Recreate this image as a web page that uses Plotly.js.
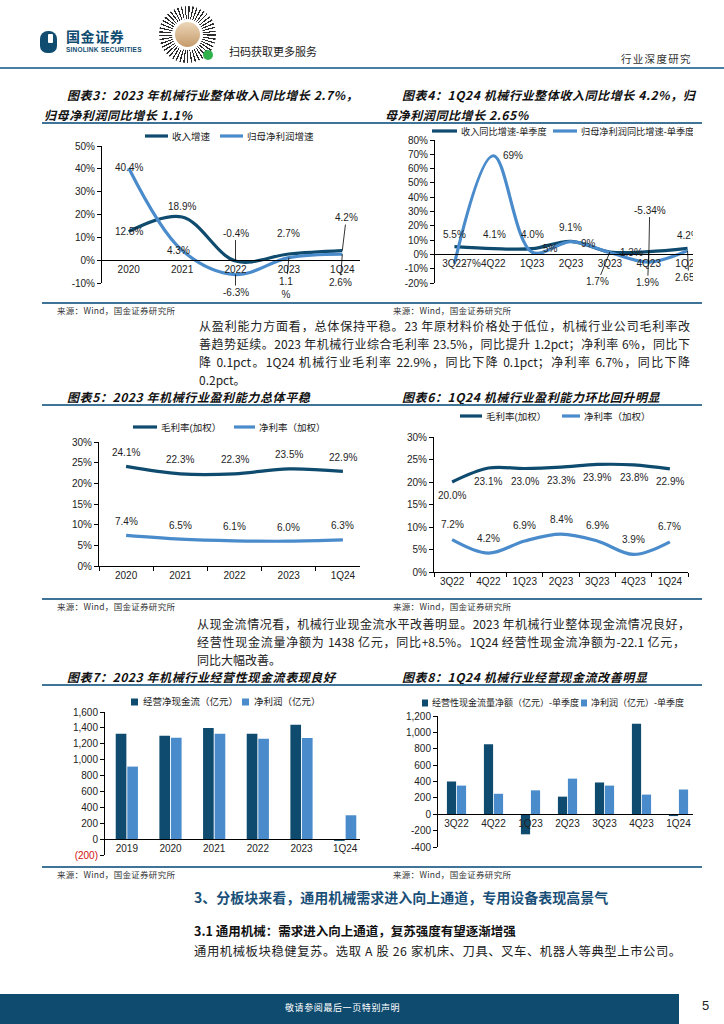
<!DOCTYPE html>
<html lang="zh-CN"><head><meta charset="utf-8">
<script src="https://cdn.plot.ly/plotly-3.0.1.min.js"></script>
<style>
html,body{margin:0;padding:0;background:#fff;}
body{width:724px;height:1024px;position:relative;overflow:hidden;font-family:"Noto Sans CJK SC","Liberation Sans",sans-serif;color:#222;}
.t{position:absolute;white-space:nowrap;line-height:1.2;transform:translateY(-50%);}
.hr{position:absolute;left:42px;width:660px;height:1.5px;background:#3f7397;}
.ttl{font-weight:700;font-style:italic;font-size:12px;letter-spacing:0.6px;color:#111;}
.src{font-size:8.5px;color:#333;letter-spacing:0.3px;}
.pl{position:absolute;height:18px;line-height:18px;font-size:12px;color:#222;transform:translateY(-50%);}
.j{text-align:justify;text-align-last:justify;}
.wrap{position:absolute;overflow:hidden;}
</style></head><body>

<!-- header -->
<div style="position:absolute;left:40px;top:31px;width:17px;height:22px;border-radius:8px 8px 7px 7px;background:#0f4c70;"></div>
<div style="position:absolute;left:48px;top:34px;width:5px;height:9px;background:#fff;border-radius:1px;"></div>
<div class="t" style="left:66px;top:36px;font-size:14px;line-height:1;font-weight:700;color:#0f4c70;letter-spacing:0.6px;">国金证券</div>
<div class="t" style="left:66px;top:50px;font-size:6.5px;line-height:1;font-weight:700;color:#0f4c70;font-family:'Liberation Sans',sans-serif;letter-spacing:0.2px;">SINOLINK SECURITIES</div>
<div style="position:absolute;left:159px;top:6px;width:57px;height:57px;border-radius:50%;background:repeating-conic-gradient(from 2deg,#2b2b2b 0 3deg,#fff 3deg 8deg);"></div>
<div style="position:absolute;left:172px;top:19px;width:31px;height:31px;border-radius:50%;background:#fff;"></div>
<div style="position:absolute;left:175px;top:22px;width:25px;height:25px;border-radius:50%;background:linear-gradient(#ecd6b8,#c59b6c);"></div>
<div style="position:absolute;left:203px;top:50px;width:10px;height:10px;border-radius:50%;background:#2fb24c;"></div>
<div class="t" style="left:229px;top:52px;font-size:11px;color:#222;">扫码获取更多服务</div>
<div class="t" style="left:621px;top:59px;font-size:10.5px;color:#333;letter-spacing:1.3px;">行业深度研究</div>
<div style="position:absolute;left:0;top:67px;width:724px;height:2px;background:#4a7ea3;"></div>

<!-- titles row 1 -->
<div class="t ttl" style="left:67px;top:95px;">图表3：2023 年机械行业整体收入同比增长 2.7%，</div>
<div class="t ttl" style="left:44px;top:115px;">归母净利润同比增长 1.1%</div>
<div class="t ttl" style="left:402px;top:95px;">图表4：1Q24 机械行业整体收入同比增长 4.2%，归</div>
<div class="t ttl" style="left:385px;top:115px;">母净利润同比增长 2.65%</div>
<div class="hr" style="top:122px;"></div>

<div class="wrap" style="left:40px;top:125px;width:320px;height:176px;"><div id="c3"></div></div>
<div class="wrap" style="left:380px;top:124px;width:313px;height:176px;"><div id="c4"></div></div>

<div class="hr" style="top:302px;"></div>
<div class="t src" style="left:57px;top:310px;">来源：Wind，国金证券研究所</div>
<div class="t src" style="left:393px;top:310px;">来源：Wind，国金证券研究所</div>

<div class="pl j" style="left:199px;top:326px;width:491px;">从盈利能力方面看，总体保持平稳。23 年原材料价格处于低位，机械行业公司毛利率改</div>
<div class="pl j" style="left:199px;top:344px;width:491px;">善趋势延续。2023 年机械行业综合毛利率 23.5%，同比提升 1.2pct；净利率 6%，同比下</div>
<div class="pl j" style="left:199px;top:362px;width:491px;">降 0.1pct。1Q24 机械行业毛利率 22.9%，同比下降 0.1pct；净利率 6.7%，同比下降</div>
<div class="pl" style="left:199px;top:380px;">0.2pct。</div>

<div class="t ttl" style="left:67px;top:397px;">图表5：2023 年机械行业盈利能力总体平稳</div>
<div class="t ttl" style="left:402px;top:397px;">图表6：1Q24 机械行业盈利能力环比回升明显</div>
<div class="hr" style="top:404px;"></div>

<div class="wrap" style="left:40px;top:410px;width:320px;height:187px;"><div id="c5"></div></div>
<div class="wrap" style="left:380px;top:406px;width:313px;height:191px;"><div id="c6"></div></div>

<div class="hr" style="top:598px;"></div>
<div class="t src" style="left:57px;top:606px;">来源：Wind，国金证券研究所</div>
<div class="t src" style="left:393px;top:606px;">来源：Wind，国金证券研究所</div>

<div class="pl j" style="left:197px;top:624px;width:493px;">从现金流情况看，机械行业现金流水平改善明显。2023 年机械行业整体现金流情况良好，</div>
<div class="pl j" style="left:197px;top:642px;width:488px;">经营性现金流量净额为 1438 亿元，同比+8.5%。1Q24 经营性现金流净额为-22.1 亿元，</div>
<div class="pl" style="left:197px;top:660px;">同比大幅改善。</div>

<div class="t ttl" style="left:67px;top:677px;">图表7：2023 年机械行业经营性现金流表现良好</div>
<div class="t ttl" style="left:402px;top:677px;">图表8：1Q24 机械行业经营现金流改善明显</div>
<div class="hr" style="top:684px;"></div>

<div class="wrap" style="left:40px;top:688px;width:320px;height:176px;"><div id="c7"></div></div>
<div class="wrap" style="left:380px;top:688px;width:313px;height:176px;"><div id="c8"></div></div>

<div class="hr" style="top:866px;"></div>
<div class="t src" style="left:57px;top:874px;">来源：Wind，国金证券研究所</div>
<div class="t src" style="left:393px;top:874px;">来源：Wind，国金证券研究所</div>

<div class="t" style="left:194px;top:897px;font-size:14px;font-weight:700;color:#1a5078;">3、分板块来看，通用机械需求进入向上通道，专用设备表现高景气</div>
<div class="t" style="left:194px;top:930px;font-size:12.5px;font-weight:700;color:#111;">3.1 通用机械：需求进入向上通道，复苏强度有望逐渐增强</div>
<div class="t" style="left:194px;top:951px;font-size:12.3px;color:#222;letter-spacing:0.6px;">通用机械板块稳健复苏。选取 A 股 26 家机床、刀具、叉车、机器人等典型上市公司。</div>

<div style="position:absolute;left:0;top:994px;width:679px;height:30px;background:#0f4b6e;"></div>
<div class="t" style="left:285px;top:1008px;font-size:9px;color:#fff;letter-spacing:0.6px;">敬请参阅最后一页特别声明</div>
<div class="t" style="left:702px;top:1006px;font-size:13px;color:#222;font-family:'Liberation Sans',sans-serif;">5</div>

<script>
// ===================== DATA =====================
const c3Cats = ['2020', '2021', '2022', '2023', '1Q24'];
const c3Revenue = [12.5, 18.9, -0.4, 2.7, 4.2];
const c3Profit = [40.4, 4.3, -6.3, 1.1, 2.6];
const c3RevenueLabels = ['12.5%', '18.9%', '-0.4%', '2.7%', '4.2%'];
const c3ProfitLabels = ['40.4%', '4.3%', '-6.3%', '1.1<br>%', '2.6%'];
const c3Names = ['收入增速', '归母净利润增速'];
const c3TickVals = [-10, 0, 10, 20, 30, 40, 50];
const c3TickText = ['-10%', '0%', '10%', '20%', '30%', '40%', '50%'];

const c4Cats = ['3Q22', '4Q22', '1Q23', '2Q23', '3Q23', '4Q23', '1Q24'];
const c4Revenue = [5.5, 4.1, 4.0, 9.1, 1.7, 1.9, 4.2];
const c4Profit = [-6.5, 69, 1.5, 8.9, 1.3, -5.34, 2.65];
const c4RevenueLabels = ['5.5%', '4.1%', '4.0%', '9.1%', '1.7%', '1.9%', '4.2%'];
const c4ProfitLabels = ['-7%', '69%', '5%', '9%', '1.3%', '-5.34%', '2.65%'];
const c4Names = ['收入同比增速-单季度', '归母净利润同比增速-单季度'];
const c4TickVals = [-20, -10, 0, 10, 20, 30, 40, 50, 60, 70, 80];
const c4TickText = ['-20%', '-10%', '0%', '10%', '20%', '30%', '40%', '50%', '60%', '70%', '80%'];

const c5Cats = ['2020', '2021', '2022', '2023', '1Q24'];
const c5Gross = [24.1, 22.3, 22.3, 23.5, 22.9];
const c5Net = [7.4, 6.5, 6.1, 6.0, 6.3];
const marginNames = ['毛利率(加权）', '净利率（加权）'];
const pctTickVals = [0, 5, 10, 15, 20, 25, 30];
const pctTickText = ['0%', '5%', '10%', '15%', '20%', '25%', '30%'];

const c6Cats = ['3Q22', '4Q22', '1Q23', '2Q23', '3Q23', '4Q23', '1Q24'];
const c6Gross = [20.0, 23.1, 23.0, 23.3, 23.9, 23.8, 22.9];
const c6Net = [7.2, 4.2, 6.9, 8.4, 6.9, 3.9, 6.7];

const c7Cats = ['2019', '2020', '2021', '2022', '2023', '1Q24'];
const c7OpCash = [1325, 1300, 1400, 1325, 1438, -22.1];
const c7NetProfit = [913, 1275, 1325, 1263, 1272, 300];
const c7Names = ['经营净现金流（亿元）', '净利润（亿元）'];
const c7TickVals = [-200, 0, 200, 400, 600, 800, 1000, 1200, 1400, 1600];
const c7TickText = ['<span style="color:#d01010">(200)</span>', '0', '200', '400', '600', '800', '1,000', '1,200', '1,400', '1,600'];

const c8Cats = ['3Q22', '4Q22', '1Q23', '2Q23', '3Q23', '4Q23', '1Q24'];
const c8OpCash = [400, 855, -245, 215, 388, 1105, -22.1];
const c8NetProfit = [350, 250, 292, 435, 350, 240, 302];
const c8Names = ['经营性现金流量净额（亿元）-单季度', '净利润（亿元）-单季度'];
const c8TickVals = [-400, -200, 0, 200, 400, 600, 800, 1000, 1200];
const c8TickText = ['-400', '-200', '0', '200', '400', '600', '800', '1,000', '1,200'];

// ===================== STYLE =====================
const FONT = '"Liberation Sans", Arial, "Noto Sans CJK SC", sans-serif';
const DARK = '#0e4b6e';
const LIGHT = '#4a8bcb';
const LBL = {size: 10, color: '#1e1e1e', family: FONT};
const cfg = {staticPlot: true, displayModeBar: false};

// chart frames: page position of the plot div and its margins
const G = {
  c3: {left: 40, top: 125, w: 345, h: 176, m: {l: 62, r: 16, t: 21, b: 18}},
  c4: {left: 380, top: 124, w: 340, h: 176, m: {l: 55, r: 13, t: 16, b: 17}},
  c5: {left: 40, top: 410, w: 345, h: 187, m: {l: 59, r: 15, t: 32, b: 31}},
  c6: {left: 380, top: 406, w: 320, h: 191, m: {l: 54, r: 12, t: 31, b: 25}},
  c7: {left: 40, top: 688, w: 345, h: 176, m: {l: 65, r: 18, t: 24, b: 9}},
  c8: {left: 380, top: 688, w: 330, h: 176, m: {l: 58, r: 13, t: 28, b: 17}}
};
// legend layout (page px): [sampleStart, sampleEnd, textStart] per item, row y, kind
const LEG = {
  c3: {y: 136, items: [[145, 168, 170], [220, 243, 245]], kind: 'line', size: 9.5},
  c4: {y: 131, items: [[432, 457, 459], [553, 577, 579]], kind: 'line', size: 9.2},
  c5: {y: 427, items: [[133, 157, 159], [234, 255, 257]], kind: 'line', size: 9.5},
  c6: {y: 416, items: [[460, 482, 484], [562, 580, 582]], kind: 'line', size: 9.5},
  c7: {y: 702, items: [[131, 138, 141], [242, 249, 252]], kind: 'box', size: 9.5},
  c8: {y: 703, items: [[422, 428, 430], [581, 587, 589]], kind: 'box', size: 9}
};

// label offsets [dx, dy, leaderLine]
const c3RevOff = [[0, 0, 0], [0, -11, 0], [0, -28, 1], [0, -21, 0], [4, -33, 1]];
const c3ProOff = [[0, 0, 0], [-4, 0, 0], [0, 18, 1], [-3, 30, 1], [-2, 28, 1]];
const c4RevOff = [[0, -12, 0], [1, -14, 0], [0, -14, 0], [-1, -14, 0], [-12, 30, 1], [-1, 31, 1], [1, -13, 0]];
const c4ProOff = [[18, 0, 0], [20, 0, 0], [18, -4, 0], [17, 2, 0], [22, 0, 0], [1, -52, 1], [1, 27, 1]];

function plotBox(id) {
  const g = G[id];
  return {L: g.left + g.m.l, R: g.left + g.w - g.m.r, T: g.top + g.m.t, B: g.top + g.h - g.m.b};
}
function legendParts(id, names, colors) {
  const b = plotBox(id), lg = LEG[id];
  const fx = px => (px - b.L) / (b.R - b.L);
  const fy = py => (b.B - py) / (b.B - b.T);
  const shapes = [], anns = [];
  lg.items.forEach((it, i) => {
    if (lg.kind === 'line') {
      shapes.push({type: 'line', xref: 'paper', yref: 'paper', x0: fx(it[0]), x1: fx(it[1]), y0: fy(lg.y), y1: fy(lg.y),
                   line: {color: colors[i], width: 3.2}});
    } else {
      shapes.push({type: 'rect', xref: 'paper', yref: 'paper', x0: fx(it[0]), x1: fx(it[1]), y0: fy(lg.y + 3.5), y1: fy(lg.y - 3.5),
                   line: {width: 0}, fillcolor: colors[i]});
    }
    anns.push({xref: 'paper', yref: 'paper', x: fx(it[2]), y: fy(lg.y), xanchor: 'left', yanchor: 'middle',
               text: names[i], showarrow: false, font: {size: lg.size, color: '#222', family: FONT}});
  });
  return {shapes, anns};
}
function labels(vals, texts, offs) {
  return vals.map((v, i) => {
    const [dx, dy, arrow] = offs[i];
    if (arrow) {
      return {x: i, y: v, xref: 'x', yref: 'y', text: texts[i], showarrow: true, arrowhead: 0,
              arrowwidth: 0.8, arrowcolor: '#000', ax: dx, ay: dy, standoff: 0, font: LBL};
    }
    return {x: i, y: v, xref: 'x', yref: 'y', text: texts[i], showarrow: false,
            xshift: dx, yshift: -dy, font: LBL};
  });
}
function simpleLabels(vals, shift) {
  return vals.map((v, i) => ({x: i, y: v, xref: 'x', yref: 'y', text: v.toFixed(1) + '%',
    showarrow: false, yshift: shift, font: LBL}));
}
function yAxis(range, vals, texts) {
  return {range, tickmode: 'array', tickvals: vals, ticktext: texts, showgrid: false, zeroline: false,
          showline: true, linecolor: '#000', linewidth: 1, ticks: 'outside', ticklen: 4, tickcolor: '#000',
          tickfont: {size: 10, color: '#222', family: FONT}, fixedrange: true};
}
function xAxis(n, extra) {
  return Object.assign({type: 'category', range: [-0.5, n - 0.5], showgrid: false, zeroline: false,
          showline: true, linecolor: '#000', linewidth: 1, ticks: '', tickfont: {size: 10, color: '#222', family: FONT}}, extra);
}
function base(id) {
  const g = G[id];
  return {width: g.w, height: g.h, margin: g.m, paper_bgcolor: 'rgba(0,0,0,0)', plot_bgcolor: 'rgba(0,0,0,0)',
          font: {family: FONT, size: 10, color: '#222'}, showlegend: false};
}
function line(cats, vals, name, color) {
  return {type: 'scatter', mode: 'lines', x: cats, y: vals, name,
          line: {shape: 'spline', smoothing: 1, width: 3.2, color}, hoverinfo: 'skip', cliponaxis: false};
}
function bar(cats, vals, name, color) {
  return {type: 'bar', x: cats, y: vals, name, marker: {color, line: {width: 0}}, hoverinfo: 'skip'};
}
function draw(id, traces, extra, dataAnns, names) {
  const lp = legendParts(id, names, [DARK, LIGHT]);
  const layout = Object.assign(base(id), extra, {shapes: lp.shapes, annotations: (dataAnns || []).concat(lp.anns)});
  Plotly.newPlot(id, traces, layout, cfg);
}

// ===== Chart 3 =====
draw('c3', [line(c3Cats, c3Revenue, c3Names[0], DARK), line(c3Cats, c3Profit, c3Names[1], LIGHT)], {
    xaxis: xAxis(5, {anchor: 'free', position: 10 / 60}),
    yaxis: yAxis([-10, 50], c3TickVals, c3TickText)
  }, labels(c3Revenue, c3RevenueLabels, c3RevOff).concat(labels(c3Profit, c3ProfitLabels, c3ProOff)), c3Names);

// ===== Chart 4 =====
draw('c4', [line(c4Cats, c4Revenue, c4Names[0], DARK), line(c4Cats, c4Profit, c4Names[1], LIGHT)], {
    xaxis: xAxis(7, {anchor: 'free', position: 20 / 100}),
    yaxis: yAxis([-20, 80], c4TickVals, c4TickText)
  }, labels(c4Revenue, c4RevenueLabels, c4RevOff).concat(labels(c4Profit, c4ProfitLabels, c4ProOff)), c4Names);

// ===== Chart 5 =====
draw('c5', [line(c5Cats, c5Gross, marginNames[0], DARK), line(c5Cats, c5Net, marginNames[1], LIGHT)], {
    xaxis: xAxis(5, {ticks: 'outside', tickson: 'boundaries', ticklen: 4, tickcolor: '#000'}),
    yaxis: yAxis([0, 30], pctTickVals, pctTickText)
  }, simpleLabels(c5Gross, 14).concat(simpleLabels(c5Net, 14)), marginNames);

// ===== Chart 6 =====
draw('c6', [line(c6Cats, c6Gross, marginNames[0], DARK), line(c6Cats, c6Net, marginNames[1], LIGHT)], {
    xaxis: xAxis(7, {ticks: 'outside', tickson: 'boundaries', ticklen: 4, tickcolor: '#000'}),
    yaxis: yAxis([0, 30], pctTickVals, pctTickText)
  }, simpleLabels(c6Gross, -13).concat(simpleLabels(c6Net, 15)), marginNames);

// ===== Chart 7 =====
draw('c7', [bar(c7Cats, c7OpCash, c7Names[0], DARK), bar(c7Cats, c7NetProfit, c7Names[1], LIGHT)], {
    barmode: 'group', bargap: 0.47, bargroupgap: 0.08,
    xaxis: xAxis(6, {anchor: 'free', position: 200 / 1800}),
    yaxis: yAxis([-200, 1600], c7TickVals, c7TickText)
  }, [], c7Names);

// ===== Chart 8 =====
draw('c8', [bar(c8Cats, c8OpCash, c8Names[0], DARK), bar(c8Cats, c8NetProfit, c8Names[1], LIGHT)], {
    barmode: 'group', bargap: 0.46, bargroupgap: 0.08,
    xaxis: xAxis(7, {anchor: 'free', position: 400 / 1600}),
    yaxis: yAxis([-400, 1200], c8TickVals, c8TickText)
  }, [], c8Names);
</script>
</body></html>
